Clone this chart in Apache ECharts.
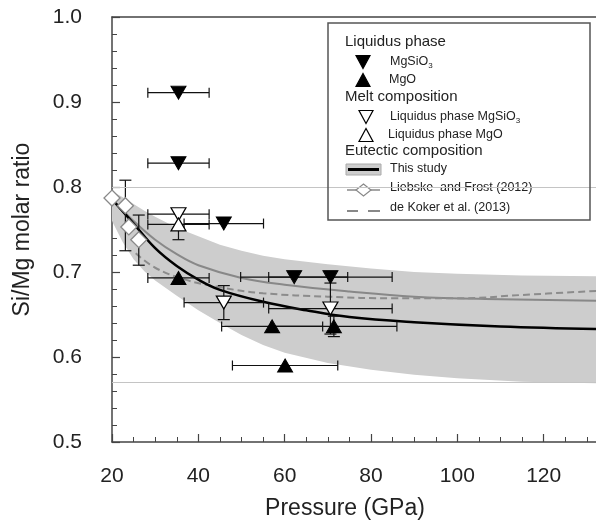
<!DOCTYPE html>
<html>
<head>
<meta charset="utf-8">
<script src="https://cdn.jsdelivr.net/npm/echarts@6/dist/echarts.min.js"></script>
<style>
  html, body { margin: 0; padding: 0; background: #fff; }
  #chart { width: 596px; height: 522px; }
</style>
</head>
<body>
<div id="chart"></div>
<script>
// grey envelope of the eutectic composition
var bandP  = [20, 22.5, 25, 27.5, 30, 35, 40, 45, 50, 55, 60, 70, 80, 90, 100, 115, 133]
var bandHi = [0.795, 0.788, 0.78, 0.772, 0.765, 0.752, 0.742, 0.732, 0.725, 0.719, 0.715, 0.709, 0.704, 0.700, 0.698, 0.696, 0.695]
var bandLo = [0.76, 0.735, 0.715, 0.701, 0.69, 0.672, 0.655, 0.64, 0.626, 0.614, 0.605, 0.593, 0.585, 0.579, 0.575, 0.571, 0.569]

// eutectic curves
var thisP = [20.8, 25, 30, 35, 40, 45, 55, 65, 75, 90, 110, 133]
var thisR = [0.781, 0.757, 0.728, 0.707, 0.691, 0.679, 0.665, 0.655, 0.647, 0.641, 0.636, 0.633]
var lfP = [20, 25, 30, 35, 40, 50, 60, 75, 90, 110, 133]
var lfR = [0.786, 0.76, 0.738, 0.721, 0.708, 0.693, 0.685, 0.677, 0.671, 0.668, 0.666]
var dkP = [25.5, 30, 37, 45, 55, 70, 85, 100, 115, 133]
var dkR = [0.722, 0.705, 0.691, 0.682, 0.675, 0.671, 0.669, 0.669, 0.673, 0.678]

// Liebske and Frost (2012) points + vertical error bars
var lfPtP = [20.0, 23.1, 23.9, 26.2]
var lfPtR = [0.787, 0.778, 0.753, 0.738]
var lfBarP  = [23.1, 26.2]
var lfBarLo = [0.725, 0.708]
var lfBarHi = [0.808, 0.767]

// liquidus phase MgSiO3 (filled down)
var liqSiP = [35.4, 35.4, 45.9, 62.2, 70.6]
var liqSiR = [0.911, 0.828, 0.757, 0.694, 0.694]
var liqSiPErr = [7.1, 7.1, 9.2, 12.4, 14.3]
var liqSiRErr = [0, 0, 0, 0, 0]
// liquidus phase MgO (filled up)
var liqMgP = [35.4, 57.1, 71.4, 60.1]
var liqMgR = [0.693, 0.636, 0.636, 0.590]
var liqMgPErr = [7.1, 11.7, 14.6, 12.2]
var liqMgRErr = [0, 0, 0.012, 0]
// melt composition, liquidus phase MgSiO3 (open down)
var meltSiP = [35.4, 45.9, 70.6]
var meltSiR = [0.768, 0.664, 0.657]
var meltSiPErr = [7.1, 9.2, 14.3]
var meltSiRErr = [0, 0.02, 0.03]
// melt composition, liquidus phase MgO (open up)
var meltMgP = [35.4]
var meltMgR = [0.756]
var meltMgPErr = [7.1]
var meltMgRErr = [0.018]

var refLines = [0.8, 0.569]

var FONT = 'Liberation Sans, Arial, sans-serif'
var AX = '#444'

function zip(a, b) {
  return a.map(function (v, i) { return [v, b[i]] })
}
function zip4(a, b, c, d) {
  return a.map(function (v, i) { return [v, b[i], c[i], d[i]] })
}

var chart = echarts.init(document.getElementById('chart'))

function renderBand(params, api) {
  if (params.dataIndex !== 0) return
  var pts = []
  for (var i = 0; i < bandP.length; i++) pts.push(api.coord([bandP[i], bandHi[i]]))
  for (var j = bandP.length - 1; j >= 0; j--) pts.push(api.coord([bandP[j], bandLo[j]]))
  return {
    type: 'polygon',
    shape: { points: pts },
    style: { fill: '#cdcdcd', stroke: null }
  }
}

function renderErr(params, api) {
  var p = api.value(0), r = api.value(1), dp = api.value(2), dr = api.value(3)
  var st = { stroke: '#111', lineWidth: 1.2 }
  var kids = []
  if (dp > 0) {
    var a = api.coord([p - dp, r]), b = api.coord([p + dp, r])
    kids.push({ type: 'line', shape: { x1: a[0], y1: a[1], x2: b[0], y2: b[1] }, style: st })
    kids.push({ type: 'line', shape: { x1: a[0], y1: a[1] - 5, x2: a[0], y2: a[1] + 5 }, style: st })
    kids.push({ type: 'line', shape: { x1: b[0], y1: b[1] - 5, x2: b[0], y2: b[1] + 5 }, style: st })
  }
  if (dr > 0) {
    var c = api.coord([p, r - dr]), d = api.coord([p, r + dr])
    kids.push({ type: 'line', shape: { x1: c[0], y1: c[1], x2: d[0], y2: d[1] }, style: st })
    kids.push({ type: 'line', shape: { x1: c[0] - 6, y1: c[1], x2: c[0] + 6, y2: c[1] }, style: st })
    kids.push({ type: 'line', shape: { x1: d[0] - 6, y1: d[1], x2: d[0] + 6, y2: d[1] }, style: st })
  }
  return { type: 'group', children: kids }
}

function renderLfBar(params, api) {
  var p = api.value(0), lo = api.value(1), hi = api.value(2)
  var st = { stroke: '#111', lineWidth: 1.2 }
  var c = api.coord([p, lo]), d = api.coord([p, hi])
  return {
    type: 'group',
    children: [
      { type: 'line', shape: { x1: c[0], y1: c[1], x2: d[0], y2: d[1] }, style: st },
      { type: 'line', shape: { x1: c[0] - 6, y1: c[1], x2: c[0] + 6, y2: c[1] }, style: st },
      { type: 'line', shape: { x1: d[0] - 6, y1: d[1], x2: d[0] + 6, y2: d[1] }, style: st }
    ]
  }
}

var errData = []
  .concat(zip4(liqSiP, liqSiR, liqSiPErr, liqSiRErr))
  .concat(zip4(liqMgP, liqMgR, liqMgPErr, liqMgRErr))
  .concat(zip4(meltSiP, meltSiR, meltSiPErr, meltSiRErr))
  .concat(zip4(meltMgP, meltMgR, meltMgPErr, meltMgRErr))

// legend drawn by hand (grouped headings)
var LX = 345
function head(txt, y) {
  return { type: 'text', left: LX, top: y - 9, style: { text: txt, fontSize: 15, fontFamily: FONT, fill: '#222' } }
}
function item(txt, x, y) {
  return {
    type: 'text', left: x, top: y - 8,
    style: {
      text: txt, fontSize: 12.5, fontFamily: FONT, fill: '#222', lineHeight: 16,
      rich: { s: { fontSize: 8, verticalAlign: 'bottom', lineHeight: 16, fontFamily: FONT, fill: '#222' } }
    }
  }
}
function tri(cx, cy, down, filled) {
  var w = 7, h = 6.5
  var pts = down ? [[cx - w, cy - h], [cx + w, cy - h], [cx, cy + h]] : [[cx - w, cy + h], [cx + w, cy + h], [cx, cy - h]]
  return { type: 'polygon', shape: { points: pts }, style: { fill: filled ? '#000' : '#fff', stroke: '#000', lineWidth: 1.2 } }
}

var legendGraphic = [
  { type: 'rect', shape: { x: 328, y: 23, width: 262, height: 197 }, style: { fill: null, stroke: '#555', lineWidth: 1.5 }, z: 10 },
  head('Liquidus phase', 43),
  tri(363, 62, true, true), item('MgSiO{s|3}', 390, 62),
  tri(363, 80, false, true), item('MgO', 389, 80),
  head('Melt composition', 98),
  tri(366, 117, true, false), item('Liquidus phase MgSiO{s|3}', 390, 117),
  tri(366, 135, false, false), item('Liquidus phase MgO', 388, 135),
  head('Eutectic composition', 152),
  { type: 'rect', shape: { x: 346, y: 164, width: 35, height: 11 }, style: { fill: '#cdcdcd', stroke: '#aaa', lineWidth: 1 } },
  { type: 'line', shape: { x1: 348, y1: 169.5, x2: 379, y2: 169.5 }, style: { stroke: '#000', lineWidth: 3 } },
  item('This study', 390, 169),
  { type: 'line', shape: { x1: 347, y1: 190, x2: 380, y2: 190 }, style: { stroke: '#888', lineWidth: 1.5 } },
  { type: 'polygon', shape: { points: [[356, 190], [363.5, 184], [371, 190], [363.5, 196]] }, style: { fill: '#fff', stroke: '#888', lineWidth: 1.2 } },
  item('Liebske  and Frost (2012)', 390, 188),
  { type: 'line', shape: { x1: 347, y1: 211, x2: 358, y2: 211 }, style: { stroke: '#888', lineWidth: 2 } },
  { type: 'line', shape: { x1: 368, y1: 211, x2: 380, y2: 211 }, style: { stroke: '#888', lineWidth: 2 } },
  item('de Koker et al. (2013)', 390, 208)
]

chart.setOption({
  animation: false,
  backgroundColor: '#fff',
  // the plot runs past the right edge of the picture (axis goes on to 140)
  grid: { left: 112, right: -34, top: 17, bottom: 80, containLabel: false, outerBoundsMode: 'none' },
  xAxis: [{
    type: 'value',
    min: 20,
    max: 140,
    interval: 20,
    position: 'bottom',
    axisLine: { show: true, onZero: false, lineStyle: { color: AX, width: 1.5 } },
    axisTick: { show: true, inside: true, length: 8, lineStyle: { color: AX, width: 1.2 } },
    minorTick: { show: true, splitNumber: 4, length: 5, lineStyle: { color: AX, width: 1 } },
    splitLine: { show: false },
    axisLabel: { showMaxLabel: false, margin: 24, fontSize: 21, fontFamily: FONT, color: '#222' },
    name: 'Pressure (GPa)',
    nameLocation: 'middle',
    nameGap: 55,
    nameTextStyle: { fontSize: 23, fontFamily: FONT, color: '#222', padding: [0, 52, 0, 0] }
  }, {
    type: 'value',
    min: 20,
    max: 140,
    position: 'top',
    axisLine: { show: true, onZero: false, lineStyle: { color: AX, width: 1.5 } },
    axisTick: { show: false },
    axisLabel: { show: false },
    splitLine: { show: false }
  }],
  yAxis: {
    type: 'value',
    min: 0.5,
    max: 1.0,
    interval: 0.1,
    axisLine: { show: true, onZero: false, lineStyle: { color: AX, width: 1.5 } },
    axisTick: { show: true, inside: true, length: 8, lineStyle: { color: AX, width: 1.2 } },
    minorTick: { show: true, splitNumber: 5, length: 5, lineStyle: { color: AX, width: 1 } },
    splitLine: { show: false },
    axisLabel: {
      margin: 30, fontSize: 21, fontFamily: FONT, color: '#222',
      formatter: function (v) { return v.toFixed(1) }
    },
    name: 'Si/Mg molar ratio',
    nameLocation: 'middle',
    nameGap: 78,
    nameTextStyle: { fontSize: 23, fontFamily: FONT, color: '#222' }
  },
  graphic: legendGraphic,
  series: [
    {
      name: 'band',
      type: 'custom',
      z: 1,
      silent: true,
      renderItem: renderBand,
      data: [[bandP[0], bandLo[0]]]
    },
    {
      name: 'This study',
      type: 'line',
      z: 3,
      smooth: 0.4,
      showSymbol: false,
      lineStyle: { color: '#000', width: 2.5 },
      data: zip(thisP, thisR),
      markLine: {
        silent: true,
        symbol: 'none',
        label: { show: false },
        lineStyle: { color: '#c4c4c4', width: 1, type: 'solid' },
        data: refLines.map(function (v) { return { yAxis: v } })
      }
    },
    {
      name: 'Liebske and Frost (2012) fit',
      type: 'line',
      z: 2,
      smooth: 0.4,
      showSymbol: false,
      lineStyle: { color: '#888', width: 2 },
      data: zip(lfP, lfR)
    },
    {
      name: 'de Koker et al. (2013)',
      type: 'line',
      z: 2,
      smooth: 0.4,
      showSymbol: false,
      lineStyle: { color: '#8c8c8c', width: 2, type: [7, 4] },
      data: zip(dkP, dkR)
    },
    {
      name: 'lf bars',
      type: 'custom',
      z: 4,
      renderItem: renderLfBar,
      data: lfBarP.map(function (p, i) { return [p, lfBarLo[i], lfBarHi[i]] })
    },
    {
      name: 'Liebske and Frost (2012)',
      type: 'scatter',
      z: 5,
      symbol: 'diamond',
      symbolSize: [16, 16],
      itemStyle: { color: '#fff', borderColor: '#888', borderWidth: 1.3, opacity: 1 },
      data: zip(lfPtP, lfPtR)
    },
    {
      name: 'errors',
      type: 'custom',
      z: 6,
      renderItem: renderErr,
      data: errData
    },
    {
      name: 'MgSiO3',
      type: 'scatter',
      z: 7,
      symbol: 'triangle',
      symbolRotate: 180,
      symbolSize: [15, 13],
      itemStyle: { color: '#000', borderColor: '#000', borderWidth: 1, opacity: 1 },
      data: zip(liqSiP, liqSiR)
    },
    {
      name: 'MgO',
      type: 'scatter',
      z: 7,
      symbol: 'triangle',
      symbolSize: [15, 13],
      itemStyle: { color: '#000', borderColor: '#000', borderWidth: 1, opacity: 1 },
      data: zip(liqMgP, liqMgR)
    },
    {
      name: 'Liquidus phase MgSiO3',
      type: 'scatter',
      z: 8,
      symbol: 'triangle',
      symbolRotate: 180,
      symbolSize: [15, 13],
      itemStyle: { color: '#fff', borderColor: '#000', borderWidth: 1.2, opacity: 1 },
      data: zip(meltSiP, meltSiR)
    },
    {
      name: 'Liquidus phase MgO',
      type: 'scatter',
      z: 8,
      symbol: 'triangle',
      symbolSize: [15, 13],
      itemStyle: { color: '#fff', borderColor: '#000', borderWidth: 1.2, opacity: 1 },
      data: zip(meltMgP, meltMgR)
    }
  ]
})
</script>
</body>
</html>
